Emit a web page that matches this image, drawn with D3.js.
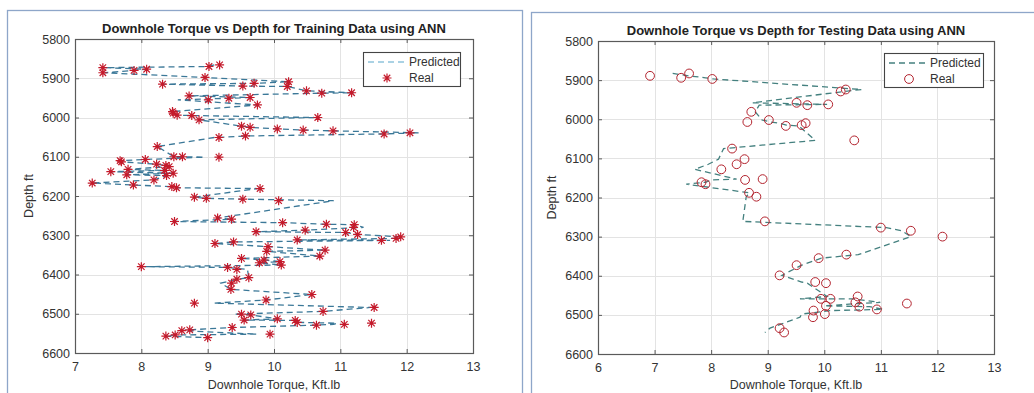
<!DOCTYPE html>
<html>
<head>
<meta charset="utf-8">
<script src="https://cdn.jsdelivr.net/npm/d3@7"></script>
<style>
  html, body { margin: 0; padding: 0; background: #ffffff; }
  svg { display: block; font-family: "Liberation Sans", Arial, sans-serif; }
</style>
</head>
<body>
<svg id="chart" width="1034" height="393"></svg>
<script>
// ---------------- DATA ----------------
// Training data (sorted by depth)
const trainDepth = [5866,5870,5873,5877,5880,5886,5898,5909,5913,5915,5920,5921,5932,5937,5938,5945,5949,5951,5955,5968,
  5985,5989,5994,5995,6000,6006,6022,6025,6029,6032,6034,6039,6042,6047,6051,6074,6100,6100,6101,6107,
  6110,6113,6119,6122,6125,6132,6135,6138,6142,6146,6148,6159,6167,6172,6176,6179,6181,6203,6206,6208,
  6212,6256,6259,6265,6268,6272,6273,6280,6287,6291,6293,6298,6304,6308,6312,6313,6317,6321,6329,6338,
  6341,6353,6359,6363,6367,6370,6376,6380,6382,6387,6408,6412,6422,6438,6451,6465,6473,6484,6494,6501,
  6503,6513,6516,6517,6522,6524,6527,6529,6535,6541,6543,6552,6554,6557,6561];
const trainReal = [9.18,9.02,7.42,8.08,7.89,7.42,8.96,10.22,9.70,8.32,9.53,10.20,10.49,11.17,10.72,8.72,9.64,9.32,9.01,9.75,
  8.47,8.48,8.54,8.76,10.66,8.87,9.51,9.64,10.05,10.44,10.89,12.05,11.66,9.57,9.17,8.24,8.49,8.62,9.17,8.06,
  7.68,7.70,8.23,8.37,8.42,7.80,8.35,7.54,8.48,7.78,8.38,8.19,7.26,7.88,8.46,8.53,9.79,8.80,8.98,9.53,
  10.07,9.15,9.36,8.50,10.13,10.79,11.21,11.20,10.47,9.73,11.08,11.26,11.91,11.84,10.35,11.62,9.39,9.11,9.91,10.77,
  9.89,10.69,9.51,9.85,10.09,9.78,10.11,8.00,9.30,9.44,9.62,9.44,9.36,9.35,10.57,9.88,8.80,11.51,10.74,9.51,
  9.65,10.05,9.55,10.32,10.35,11.47,11.06,10.64,9.37,8.73,8.61,9.94,8.51,8.37,9.00];
const trainPred = [9.10,9.02,7.45,8.08,7.89,7.45,8.96,10.22,9.70,8.32,9.53,10.20,10.49,11.20,10.72,8.72,9.64,9.32,8.55,9.75,
  8.47,8.48,8.54,8.76,10.60,8.87,9.51,9.64,10.05,10.44,10.89,12.18,11.60,9.60,9.10,8.24,8.49,8.62,8.95,8.06,
  7.68,7.70,8.23,8.37,8.42,7.80,8.35,7.54,8.48,7.78,8.38,8.19,7.26,7.88,8.46,8.53,9.75,8.80,8.98,9.53,
  10.90,9.15,9.36,8.50,10.13,10.79,11.21,11.35,10.47,9.73,11.08,11.26,11.91,11.84,10.35,11.75,9.39,9.11,9.91,10.77,
  9.89,10.69,9.51,9.85,10.09,9.78,10.11,8.05,9.30,9.60,9.62,9.44,9.20,9.35,10.57,9.88,9.10,11.45,10.74,9.40,
  9.65,10.05,9.55,10.32,10.35,10.95,10.90,10.64,9.37,8.73,8.61,9.74,8.51,8.37,9.00];

// Testing data (sorted by depth)
const testDepth = [5883,5889,5894,5897,5924,5929,5958,5962,5964,5981,6002,6007,6010,6015,6017,6054,6075,6102,6115,6128,
  6153,6155,6161,6166,6188,6198,6261,6277,6285,6300,6346,6355,6373,6399,6416,6419,6453,6459,6459,6468,
  6471,6477,6479,6486,6489,6498,6506,6534,6545];
const testReal = [7.61,6.92,7.47,8.02,10.38,10.29,9.51,10.07,9.70,8.71,9.02,8.64,9.67,9.60,9.32,10.53,8.37,8.59,8.45,8.18,
  8.91,8.60,7.83,7.90,8.67,8.80,8.95,11.00,11.53,12.09,10.39,9.90,9.51,9.21,9.84,10.03,10.59,9.94,10.11,10.55,
  11.46,10.03,10.62,10.93,9.81,10.01,9.80,9.21,9.29];
const testPred = [7.32,7.60,7.90,8.04,10.66,10.35,8.73,10.05,8.85,8.78,8.90,9.05,9.20,9.33,9.55,9.84,8.22,8.13,7.95,7.71,
  8.45,8.00,7.90,7.56,8.68,8.62,8.56,11.10,11.37,11.53,10.60,9.95,9.60,9.25,9.60,9.70,10.05,9.57,10.50,10.99,
  10.60,10.00,10.80,11.04,10.10,9.60,9.57,9.04,8.95];

const depthTicks = [5800,5900,6000,6100,6200,6300,6400,6500,6600];
const trainTorqueTicks = [7,8,9,10,11,12,13];
const testTorqueTicks = [6,7,8,9,10,11,12,13];

const titles = ["Downhole Torque vs Depth for Training Data using ANN",
                "Downhole Torque vs Depth for Testing Data using ANN"];
const xLabel = "Downhole Torque, Kft.lb";
const yLabel = "Depth ft";
const legendLabels = ["Predicted", "Real"];

// ---------------- DRAW ----------------
const svg = d3.select("#chart");

// panel frames
svg.append("rect").attr("x", 7.5).attr("y", 10.5).attr("width", 515).attr("height", 400)
  .attr("fill", "none").attr("stroke", "#8ea6c9").attr("stroke-width", 1.3);
svg.append("rect").attr("x", 531.5).attr("y", 12.5).attr("width", 520).attr("height", 400)
  .attr("fill", "none").attr("stroke", "#8ea6c9").attr("stroke-width", 1.3);

function starPath(cx, cy, r) {
  const d = r * 0.72;
  return `M${cx - r},${cy}L${cx + r},${cy}M${cx},${cy - r}L${cx},${cy + r}` +
         `M${cx - d},${cy - d}L${cx + d},${cy + d}M${cx - d},${cy + d}L${cx + d},${cy - d}`;
}

function panel(cfg) {
  const g = svg.append("g");
  const x = d3.scaleLinear().domain(cfg.xDomain).range([cfg.x0, cfg.x1]);
  const y = d3.scaleLinear().domain([depthTicks[0], depthTicks[depthTicks.length - 1]]).range([cfg.y0, cfg.y1]);

  // grid
  g.append("g").selectAll("line").data(cfg.xTicks.slice(1, -1)).join("line")
    .attr("x1", d => Math.round(x(d)) + 0.5).attr("x2", d => Math.round(x(d)) + 0.5)
    .attr("y1", cfg.y0).attr("y2", cfg.y1).attr("stroke", "#e3e3e3").attr("stroke-width", 1);
  g.append("g").selectAll("line").data(depthTicks.slice(1, -1)).join("line")
    .attr("y1", d => Math.round(y(d)) + 0.5).attr("y2", d => Math.round(y(d)) + 0.5)
    .attr("x1", cfg.x0).attr("x2", cfg.x1).attr("stroke", "#e3e3e3").attr("stroke-width", 1);

  // axes
  const axisStyle = sel => {
    sel.select(".domain").remove();
    sel.selectAll(".tick line").attr("stroke", "#5a5a5a");
    sel.selectAll(".tick text").attr("fill", "#333").style("font-size", "12.5px")
      .style("font-family", "'Liberation Sans', Arial, sans-serif");
  };
  g.append("g").attr("transform", `translate(0,${cfg.y1})`)
    .call(d3.axisBottom(x).tickValues(cfg.xTicks).tickFormat(d3.format("d")).tickSizeInner(-4).tickSizeOuter(0).tickPadding(9))
    .call(axisStyle);
  g.append("g").attr("transform", `translate(0,${cfg.y0})`)
    .call(d3.axisTop(x).tickValues(cfg.xTicks).tickFormat("").tickSizeInner(-4).tickSizeOuter(0))
    .call(axisStyle);
  g.append("g").attr("transform", `translate(${cfg.x0},0)`)
    .call(d3.axisLeft(y).tickValues(depthTicks).tickFormat(d3.format("d")).tickSizeInner(-4).tickSizeOuter(0).tickPadding(5))
    .call(axisStyle);
  g.append("g").attr("transform", `translate(${cfg.x1},0)`)
    .call(d3.axisRight(y).tickValues(depthTicks).tickFormat("").tickSizeInner(-4).tickSizeOuter(0))
    .call(axisStyle);

  // box
  g.append("rect").attr("x", cfg.x0 + 0.5).attr("y", cfg.y0 + 0.5)
    .attr("width", cfg.x1 - cfg.x0).attr("height", cfg.y1 - cfg.y0)
    .attr("fill", "none").attr("stroke", "#5a5a5a").attr("stroke-width", 1.2);

  // predicted line
  const line = d3.line().x(i => x(cfg.pred[i])).y(i => y(cfg.depth[i]));
  g.append("path").datum(d3.range(cfg.depth.length)).attr("d", line)
    .attr("fill", "none").attr("stroke", cfg.lineColor).attr("stroke-width", 1.3)
    .attr("stroke-dasharray", "6,4");

  // real markers
  if (cfg.marker === "star") {
    g.append("g").selectAll("path").data(d3.range(cfg.depth.length)).join("path")
      .attr("d", i => starPath(x(cfg.real[i]), y(cfg.depth[i]), 4.5))
      .attr("stroke", "#c41a2b").attr("stroke-width", 1.2).attr("fill", "none");
  } else {
    g.append("g").selectAll("circle").data(d3.range(cfg.depth.length)).join("circle")
      .attr("cx", i => x(cfg.real[i])).attr("cy", i => y(cfg.depth[i])).attr("r", 4.4)
      .attr("stroke", "#b3232e").attr("stroke-width", 1).attr("fill", "none");
  }

  // title
  g.append("text").attr("x", (cfg.x0 + cfg.x1) / 2).attr("y", cfg.y0 - 6)
    .attr("text-anchor", "middle").style("font-size", "13px").style("font-weight", "bold")
    .attr("fill", "#222").text(cfg.title);
  // x label
  g.append("text").attr("x", (cfg.x0 + cfg.x1) / 2).attr("y", 389)
    .attr("text-anchor", "middle").style("font-size", "12.5px").attr("fill", "#333").text(xLabel);
  // y label
  g.append("text").attr("transform", `translate(${cfg.x0 - 42},${(cfg.y0 + cfg.y1) / 2}) rotate(-90)`)
    .attr("text-anchor", "middle").style("font-size", "12.5px").attr("fill", "#333").text(yLabel);

  // legend
  const L = cfg.legend;
  g.append("rect").attr("x", L.x + 0.5).attr("y", L.y + 0.5).attr("width", L.w).attr("height", 34)
    .attr("fill", "#fff").attr("stroke", "#444").attr("stroke-width", 1.1);
  g.append("line").attr("x1", L.x + 5).attr("x2", L.x + 42).attr("y1", L.y + 10).attr("y2", L.y + 10)
    .attr("stroke", cfg.legendLineColor).attr("stroke-width", 1.3).attr("stroke-dasharray", "6,4");
  if (cfg.marker === "star") {
    g.append("path").attr("d", starPath(L.x + 24, L.y + 26, 4.5))
      .attr("stroke", "#c41a2b").attr("stroke-width", 1.2).attr("fill", "none");
  } else {
    g.append("circle").attr("cx", L.x + 25).attr("cy", L.y + 26).attr("r", 4.4)
      .attr("stroke", "#b3232e").attr("stroke-width", 1).attr("fill", "none");
  }
  g.append("text").attr("x", L.x + 46).attr("y", L.y + 14).style("font-size", "12px").attr("fill", "#333").text(legendLabels[0]);
  g.append("text").attr("x", L.x + 46).attr("y", L.y + 30).style("font-size", "12px").attr("fill", "#333").text(legendLabels[1]);
}

panel({
  x0: 75, x1: 473, y0: 39, y1: 353,
  xDomain: [trainTorqueTicks[0], trainTorqueTicks[trainTorqueTicks.length - 1]],
  xTicks: trainTorqueTicks,
  depth: trainDepth, real: trainReal, pred: trainPred,
  lineColor: "#3b7898", legendLineColor: "#8fc3dc",
  marker: "star", title: titles[0],
  legend: { x: 363, y: 52, w: 97 }
});
panel({
  x0: 598, x1: 994, y0: 41, y1: 354,
  xDomain: [testTorqueTicks[0], testTorqueTicks[testTorqueTicks.length - 1]],
  xTicks: testTorqueTicks,
  depth: testDepth, real: testReal, pred: testPred,
  lineColor: "#44807f", legendLineColor: "#44807f",
  marker: "circle", title: titles[1],
  legend: { x: 884, y: 53, w: 99 }
});
</script>
</body>
</html>
